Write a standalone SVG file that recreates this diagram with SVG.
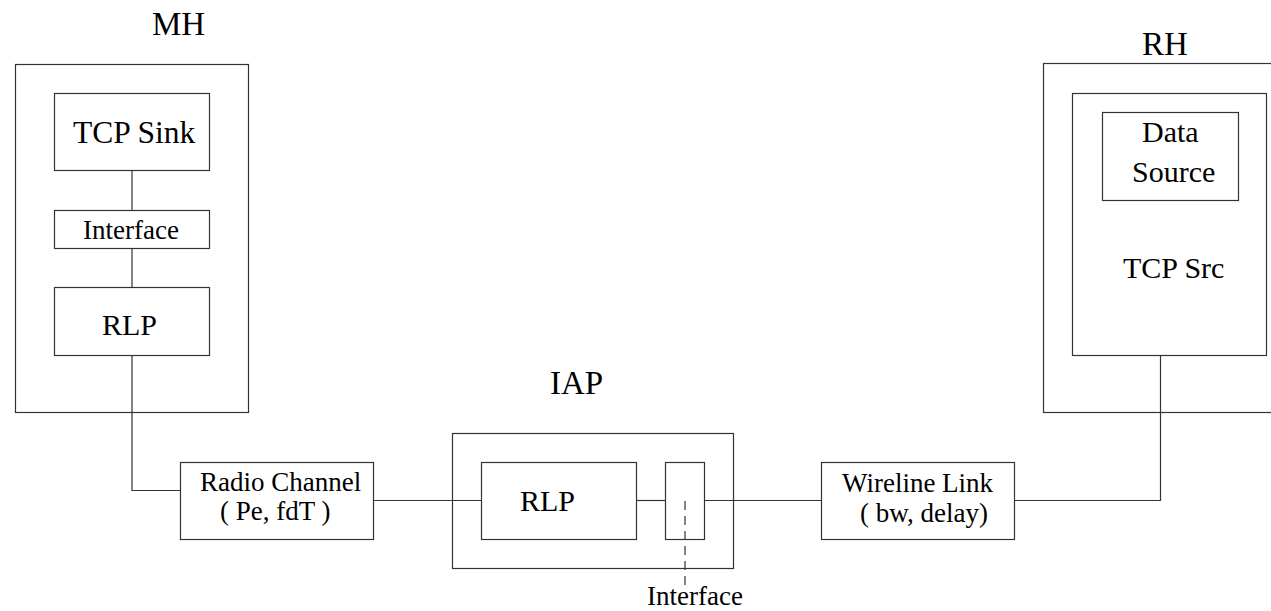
<svg xmlns="http://www.w3.org/2000/svg" width="1271" height="611" viewBox="0 0 1271 611">
  <style>
    .box { fill: none; stroke: #333; stroke-width: 1.2; }
    .wire { fill: none; stroke: #333; stroke-width: 1.2; }
    .dash { fill: none; stroke: #333; stroke-width: 1.2; stroke-dasharray: 9 6; }
    text { font-family: "Liberation Serif", "Times New Roman", serif; fill: #000; }
    .title { font-size: 33px; }
    .big { font-size: 30px; }
    .mid { font-size: 27px; }
  </style>
  <rect width="1271" height="611" fill="#fff"/>

  <!-- Connectors -->
  <g id="connectors">
    <line class="wire" x1="132" y1="170" x2="132" y2="210"/>
    <line class="wire" x1="132" y1="248" x2="132" y2="287"/>
    <polyline class="wire" points="132,355 132,490.5 180.5,490.5"/>
    <line class="wire" x1="374" y1="500.5" x2="481" y2="500.5"/>
    <line class="wire" x1="637" y1="500.5" x2="665" y2="500.5"/>
    <line class="wire" x1="704" y1="500.5" x2="821" y2="500.5"/>
    <polyline class="wire" points="1014,500.5 1160.5,500.5 1160.5,355"/>
    <line class="dash" x1="685" y1="501" x2="685" y2="587"/>
  </g>

  <!-- Mobile host -->
  <g id="mh">
    <text class="title" x="152" y="35">MH</text>
    <rect class="box" x="15.5" y="64.5" width="233" height="348"/>
  </g>
  <g id="mh-tcp-sink">
    <rect class="box" x="54.5" y="93.5" width="155" height="77"/>
    <text class="big" x="73" y="143" style="font-size:31.5px">TCP Sink</text>
  </g>
  <g id="mh-interface">
    <rect class="box" x="54.5" y="210.5" width="155" height="38"/>
    <text class="mid" x="83" y="239">Interface</text>
  </g>
  <g id="mh-rlp">
    <rect class="box" x="54.5" y="287.5" width="155" height="68"/>
    <text class="big" x="102" y="335">RLP</text>
  </g>

  <!-- Radio channel -->
  <g id="radio-channel">
    <rect class="box" x="180.5" y="462.5" width="193" height="77"/>
    <text class="mid" x="200" y="491">Radio Channel</text>
    <text class="mid" x="220" y="520">( Pe, fdT )</text>
  </g>

  <!-- Interworking access point -->
  <g id="iap">
    <text class="title" x="550" y="394">IAP</text>
    <rect class="box" x="452.5" y="433.5" width="281" height="135"/>
  </g>
  <g id="iap-rlp">
    <rect class="box" x="481.5" y="462.5" width="155" height="77"/>
    <text class="big" x="520" y="511">RLP</text>
  </g>
  <g id="iap-interface">
    <rect class="box" x="665.5" y="462.5" width="39" height="77"/>
    <text class="mid" x="647" y="605">Interface</text>
  </g>

  <!-- Wireline link -->
  <g id="wireline-link">
    <rect class="box" x="821.5" y="462.5" width="193" height="77"/>
    <text class="mid" x="842" y="492">Wireline Link</text>
    <text class="mid" x="860" y="522">( bw, delay)</text>
  </g>

  <!-- Remote host -->
  <g id="rh">
    <text class="title" x="1142" y="55">RH</text>
    <rect class="box" x="1043.5" y="63.5" width="240" height="349"/>
  </g>
  <g id="rh-tcp-src">
    <rect class="box" x="1072.5" y="93.5" width="194" height="262"/>
    <text class="big" x="1123" y="278">TCP Src</text>
  </g>
  <g id="rh-data-source">
    <rect class="box" x="1102.5" y="112.5" width="136" height="88"/>
    <text class="big" x="1142" y="142">Data</text>
    <text class="big" x="1132" y="182">Source</text>
  </g>
</svg>
